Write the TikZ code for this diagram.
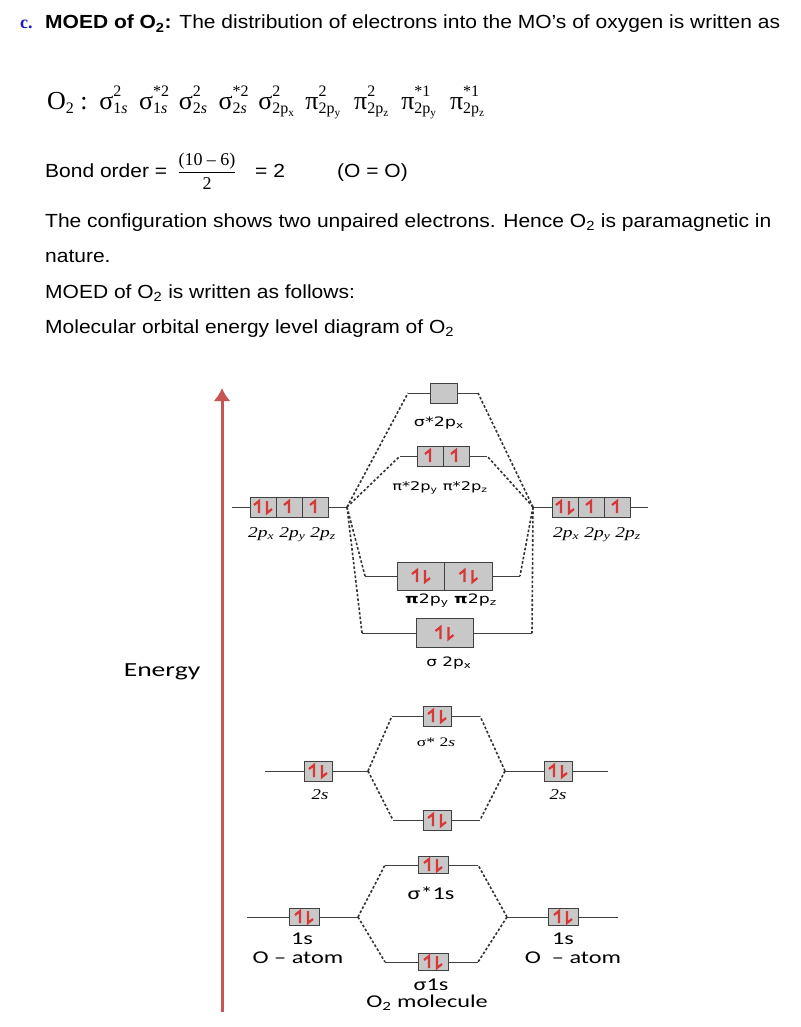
\documentclass[tikz,border=0pt]{standalone}
\usepackage{amsmath}
\usepackage{graphicx}
\usepackage{fontspec}
\setmainfont{Liberation Sans}
\newfontfamily\timesf{Liberation Serif}
\newfontfamily\calf{Carlito}
\newfontfamily\dejaf{DejaVu Sans}
\usetikzlibrary{arrows.meta}

\definecolor{orbgray}{RGB}{200,200,200}
\definecolor{spinred}{RGB}{215,55,55}
\definecolor{axisred}{RGB}{200,85,85}
\definecolor{partblue}{RGB}{25,25,200}

\tikzset{
  level/.style={line width=0.9pt, black!75},
  link/.style={dash pattern=on 2.6pt off 2pt, line width=1.6pt, black!80},
  obox/.style={draw=black!75, fill=orbgray, line width=0.9pt, inner sep=0pt},
  spin/.style={spinred, line width=2.2pt, line join=miter},
  body/.style={anchor=base west, inner sep=0pt, font=\fontsize{19}{21}\selectfont},
  lab/.style={inner sep=0pt},
}

% one energy level, with named ends
\newcommand{\molevel}[4]{\draw[level] (#2,#4) coordinate (#1-l) -- (#3,#4) coordinate (#1-r);}
% electrons
\newcommand{\eup}[2]{\draw[spin] (#1,#2+6) -- (#1,#2-6) -- (#1-5,#2-2);}
\newcommand{\edn}[2]{\draw[spin] (#1,#2-6) -- (#1,#2+6) -- (#1+5,#2+2);}
\newcommand{\epair}[2]{\eup{#1-4}{#2}\edn{#1+4}{#2}}
% orbital with occupancy above and label below
\newcommand{\orb}[3]{#1\rlap{\raisebox{13pt}{\fontsize{16}{16}\selectfont#3}}\raisebox{-4pt}{\fontsize{16}{16}\selectfont#2}}
\newcommand{\wide}[2][1.105]{\scalebox{#1}[1]{#2}}

\begin{document}
\begin{tikzpicture}[x=1pt, y=-1pt]
\useasboundingbox (0,0) rectangle (800,1027);

% Text above the diagram
\node[body, font=\timesf\fontsize{18}{20}\selectfont\bfseries, text=partblue] (part) at (20,29) {c.};
\node[body] (head) at (45,29) {\wide{\textbf{MOED of O\textsubscript{2}:} The distribution of electrons into the MO's of oxygen is written as}};
\node[anchor=base west, inner sep=0pt, font=\timesf\fontsize{26}{28}\selectfont] (config) at (47,110)
  {O\raisebox{-4pt}{\fontsize{16}{16}\selectfont 2} :\hspace{3pt} \orb{σ}{1\textit{s}}{2}\hspace{11.5pt}\orb{σ}{1\textit{s}}{*2}\hspace{11.5pt}\orb{σ}{2\textit{s}}{2}\hspace{11.5pt}\orb{σ}{2\textit{s}}{*2}\hspace{11.5pt}\orb{σ}{2p\textsubscript{x}}{2}\hspace{11pt}\orb{π}{2p\textsubscript{y}}{2}\hspace{13.5pt}\orb{π}{2p\textsubscript{z}}{2}\hspace{12.5pt}\orb{π}{2p\textsubscript{y}}{*1}\hspace{13.5pt}\orb{π}{2p\textsubscript{z}}{*1}};
\node[body] (bond) at (45,178) {\wide{Bond order =}};
\node[lab, font=\timesf\fontsize{18}{20}\selectfont] (frac) at (207,171) {$\dfrac{\text{\timesf(10 – 6)}}{\text{\timesf 2}}$};
\node[body] (bondval) at (255,178) {\wide{= 2}};
\node[body] (bondeq) at (337,178) {\wide{(O = O)}};
\node[body] (config2) at (45,227) {\wide{The configuration shows two unpaired electrons. Hence O\textsubscript{2} is paramagnetic in}};
\node[body] (nature) at (45,262) {\wide{nature.}};
\node[body] (follows) at (45,298) {\wide{MOED of O\textsubscript{2} is written as follows:}};
\node[body] (title) at (45,333) {\wide{Molecular orbital energy level diagram of O\textsubscript{2}}};

% Energy axis
\coordinate (ax-b) at (222,1012);
\coordinate (ax-t) at (222,388);
\draw[axisred, line width=3pt, -{Latex[length=13pt, width=17pt]}] (ax-b) -- (ax-t);
\node[lab, font=\calf\fontsize{20}{22}\selectfont] (energy) at (162,672) {\wide[1.38]{Energy}};

% 2p levels
\molevel{lp}{232}{347}{507}
\molevel{rp}{533}{648}{507}
\molevel{sxs}{408}{478}{393}
\molevel{pis}{400}{487}{456}
\molevel{pib}{365}{520}{576}
\molevel{sxb}{362}{532}{633}
\foreach \cx in {263,289,315} \node[obox, minimum width=26pt, minimum height=20pt] (lp\cx) at (\cx,507) {};
\foreach \cx in {565,591,617} \node[obox, minimum width=26pt, minimum height=20pt] (rp\cx) at (\cx,507) {};
\node[obox, minimum width=27pt, minimum height=20pt] (sxsbox) at (443.5,393) {};
\foreach \cx in {430,456} \node[obox, minimum width=26pt, minimum height=20pt] (pis\cx) at (\cx,456) {};
\foreach \cx in {421,468.5} \node[obox, minimum width=47.5pt, minimum height=28pt] (pib\cx) at (\cx,576) {};
\node[obox, minimum width=57pt, minimum height=29pt] (sxbbox) at (444.5,633) {};
\epair{263}{507} \eup{289}{507} \eup{315}{507}
\epair{565}{507} \eup{591}{507} \eup{617}{507}
\eup{430}{456} \eup{456}{456}
\epair{421}{576} \epair{468.5}{576}
\epair{444.5}{633}
\foreach \e in {sxs-l,pis-l,pib-l,sxb-l} \draw[link] (lp-r) -- (\e);
\foreach \e in {sxs-r,pis-r,pib-r,sxb-r} \draw[link] (rp-l) -- (\e);
\node[lab, font=\timesf\itshape\fontsize{15}{17}\selectfont] (lplab) at (292,535) {\wide[1.3]{2p\textsubscript{x} 2p\textsubscript{y} 2p\textsubscript{z}}};
\node[lab, font=\timesf\itshape\fontsize{15}{17}\selectfont] (rplab) at (597,535) {\wide[1.3]{2p\textsubscript{x} 2p\textsubscript{y} 2p\textsubscript{z}}};
\node[lab, font=\dejaf\fontsize{13}{15}\selectfont] (sxslab) at (439,423) {\wide[1.35]{σ*2p\textsubscript{x}}};
\node[lab, font=\dejaf\fontsize{12}{14}\selectfont] (pislab) at (440,488) {\wide[1.35]{π*2p\textsubscript{y} π*2p\textsubscript{z}}};
\node[lab, font=\dejaf\fontsize{13}{15}\selectfont] (piblab) at (451,601) {\wide[1.33]{\textbf{π}2p\textsubscript{y} \textbf{π}2p\textsubscript{z}}};
\node[lab, font=\dejaf\fontsize{13}{15}\selectfont] (sxblab) at (449,663) {\wide[1.3]{σ 2p\textsubscript{x}}};

% 2s levels
\molevel{ls}{265}{368}{771}
\molevel{rs}{505}{608}{771}
\molevel{sss}{392}{480}{716}
\molevel{ssb}{393}{480}{820}
\node[obox, minimum width=28pt, minimum height=20pt] (lsbox) at (318,771) {};
\node[obox, minimum width=28pt, minimum height=20pt] (rsbox) at (558,771) {};
\node[obox, minimum width=28pt, minimum height=20pt] (sssbox) at (437,716) {};
\node[obox, minimum width=28pt, minimum height=20pt] (ssbbox) at (437,820) {};
\epair{318}{771} \epair{558}{771} \epair{437}{716} \epair{437}{820}
\draw[link] (ls-r) -- (sss-l); \draw[link] (ls-r) -- (ssb-l);
\draw[link] (rs-l) -- (sss-r); \draw[link] (rs-l) -- (ssb-r);
\node[lab, font=\timesf\itshape\fontsize{15}{17}\selectfont] (lslab) at (320,795) {\wide[1.25]{2s}};
\node[lab, font=\timesf\itshape\fontsize{15}{17}\selectfont] (rslab) at (558,795) {\wide[1.25]{2s}};
\node[lab, font=\timesf\fontsize{13}{15}\selectfont] (ssslab) at (436,742) {\wide[1.35]{σ* 2\textit{s}}};

% 1s levels
\molevel{lo}{247}{358}{917}
\molevel{ro}{507}{618}{917}
\molevel{sos}{385}{478}{865}
\molevel{sob}{385}{478}{962}
\node[obox, minimum width=30pt, minimum height=17pt] (lobox) at (304,917) {};
\node[obox, minimum width=30pt, minimum height=17pt] (robox) at (563,917) {};
\node[obox, minimum width=30pt, minimum height=17pt] (sosbox) at (433,865) {};
\node[obox, minimum width=30pt, minimum height=17pt] (sobbox) at (433,962) {};
\epair{304}{917} \epair{563}{917} \epair{433}{865} \epair{433}{962}
\draw[link] (lo-r) -- (sos-l); \draw[link] (lo-r) -- (sob-l);
\draw[link] (ro-l) -- (sos-r); \draw[link] (ro-l) -- (sob-r);
\node[lab, font=\calf\fontsize{18}{20}\selectfont] (lolab) at (302,939) {\wide[1.35]{1s}};
\node[lab, font=\calf\fontsize{18}{20}\selectfont] (rolab) at (563,939) {\wide[1.35]{1s}};
\node[lab, font=\calf\fontsize{18}{20}\selectfont] (loatom) at (298,958) {\wide[1.35]{O – atom}};
\node[lab, font=\calf\fontsize{18}{20}\selectfont] (roatom) at (573,958) {\wide[1.35]{O \ – atom}};
\node[lab, font=\calf\fontsize{18}{20}\selectfont] (soslab) at (431,893) {\wide[1.35]{σ*1s}};
\node[lab, font=\calf\fontsize{18}{20}\selectfont] (soblab) at (431,985) {\wide[1.35]{σ1s}};
\node[lab, font=\calf\fontsize{18}{20}\selectfont] (mol) at (427,1003) {\wide[1.35]{O\textsubscript{2} molecule}};

\end{tikzpicture}
\end{document}
